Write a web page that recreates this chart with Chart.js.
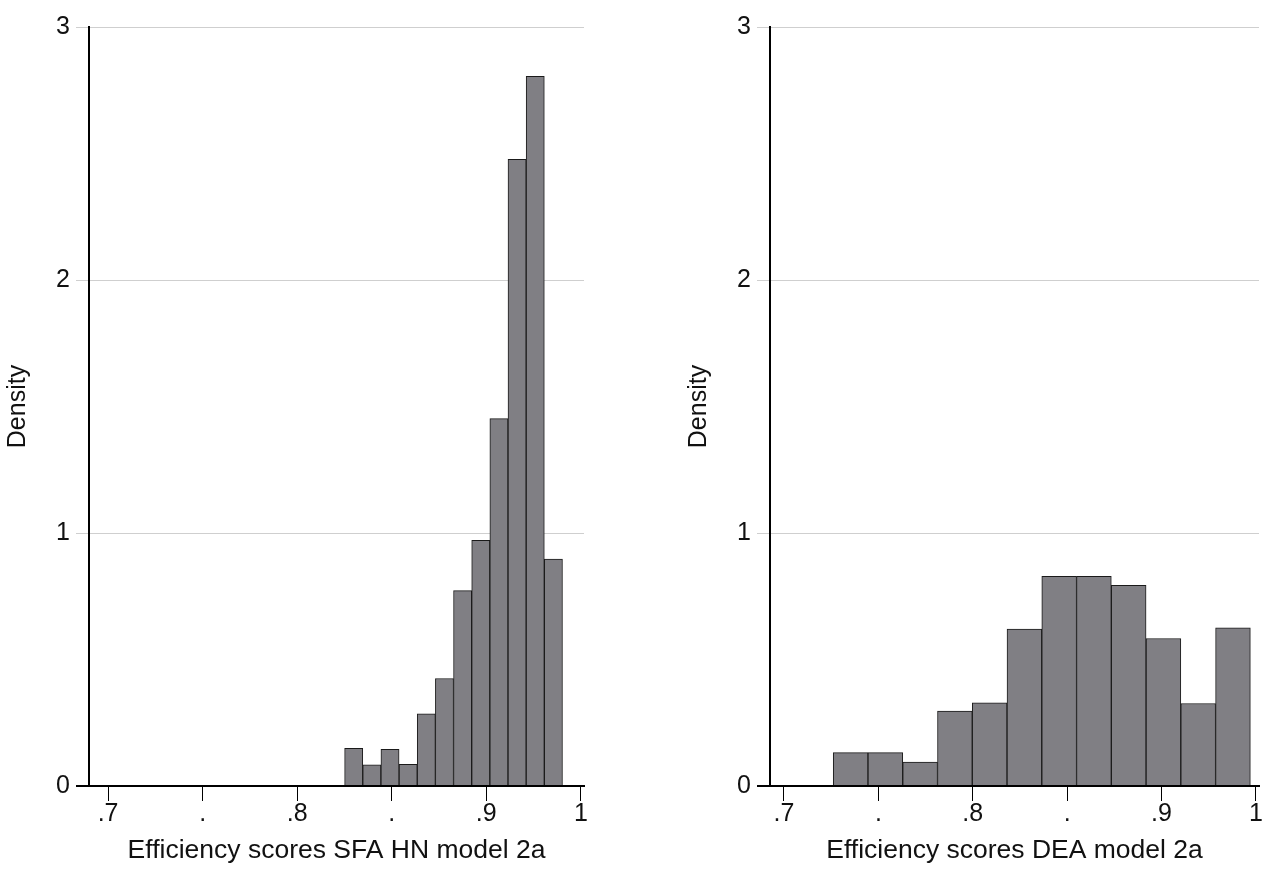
<!DOCTYPE html>
<html lang="en">
<head>
  <meta charset="UTF-8" />
  <title>Efficiency scores - histograms</title>
  <style>
    body {
      margin: 0;
      background: #ffffff;
    }
    .panel {
      position: absolute;
      top: 0;
      width: 633px;
      height: 873px;
    }
    #panelSfa { left: 0; }
    #panelDea { left: 633px; }
  </style>
</head>
<body>
  <div class="panel" id="panelSfa"><canvas id="sfaChart" width="633" height="873"></canvas></div>
  <div class="panel" id="panelDea"><canvas id="deaChart" width="633" height="873"></canvas></div>
  <script src="https://cdn.jsdelivr.net/npm/chart.js"></script>
  <script>
    // histogram bins: first bin edge, bin width, density per bin
    const sfaBinStart = 0.8501;
    const sfaBinWidth = 0.01152;
    const sfaDensity = [0.149, 0.084, 0.145, 0.086, 0.285, 0.425, 0.772, 0.971, 1.452, 2.477, 2.805, 0.897];

    const deaBinStart = 0.7313;
    const deaBinWidth = 0.0221;
    const deaDensity = [0.132, 0.132, 0.095, 0.296, 0.329, 0.620, 0.829, 0.829, 0.793, 0.583, 0.326, 0.625];

    // axes
    const xTickValues = [0.70, 0.76, 0.82, 0.88, 0.94, 1.00];
    const xTickLabels = ['.7', '.', '.8', '.', '.9', '1'];
    const yTickValues = [0, 1, 2, 3];

    Chart.defaults.font.family = "'Liberation Sans', Arial, sans-serif";
    Chart.defaults.color = '#111';

    function binPoints(start, width, dens) {
      return dens.map((d, i) => ({ x: start + width * (i + 0.5), y: d }));
    }

    function histograma(canvasId, start, width, dens, xMin, xMax, titulo, padLeft, padRight) {
      return new Chart(document.getElementById(canvasId).getContext('2d'), {
        type: 'bar',
        data: {
          datasets: [{
            data: binPoints(start, width, dens),
            backgroundColor: 'rgb(128,127,132)',
            borderColor: '#1a1a1a',
            borderWidth: 1,
            barPercentage: 1,
            categoryPercentage: 1
          }]
        },
        options: {
          responsive: false,
          animation: false,
          layout: { padding: { left: padLeft, right: padRight, top: 27, bottom: 0 } },
          plugins: {
            legend: { display: false },
            tooltip: { enabled: false }
          },
          scales: {
            x: {
              type: 'linear',
              min: xMin,
              max: xMax,
              offset: false,
              afterBuildTicks: s => { s.ticks = xTickValues.map(v => ({ value: v })); },
              afterFit: s => { s.height = 87; },
              ticks: {
                autoSkip: false,
                maxRotation: 0,
                padding: -2,
                font: { size: 25 },
                callback: (v, i) => xTickLabels[i]
              },
              grid: {
                offset: false,
                drawOnChartArea: false,
                drawTicks: true,
                tickLength: 15,
                color: '#000',
                lineWidth: 1
              },
              border: { color: '#000', width: 2 },
              title: {
                display: true,
                text: titulo,
                font: { size: 26.5 },
                padding: { top: 0, bottom: 6 }
              }
            },
            y: {
              min: 0,
              max: 3,
              afterBuildTicks: s => { s.ticks = yTickValues.map(v => ({ value: v })); },
              afterFit: s => { s.width = 89; },
              ticks: {
                padding: 6,
                font: { size: 25 }
              },
              grid: {
                color: c => (c.tick && c.tick.value === 0 ? '#000' : '#cfcfcf'),
                lineWidth: c => (c.tick && c.tick.value === 0 ? 2 : 1),
                tickLength: 13
              },
              border: { color: '#000', width: 2 },
              title: {
                display: true,
                text: 'Density',
                font: { size: 25 },
                padding: { top: 3, bottom: 0 }
              }
            }
          }
        }
      });
    }

    histograma('sfaChart', sfaBinStart, sfaBinWidth, sfaDensity, 0.6879, 1.002, 'Efficiency scores SFA HN model 2a', 0, 49);
    histograma('deaChart', deaBinStart, deaBinWidth, deaDensity, 0.6911, 1.002, 'Efficiency scores DEA model 2a', 48, 7);
  </script>
</body>
</html>
